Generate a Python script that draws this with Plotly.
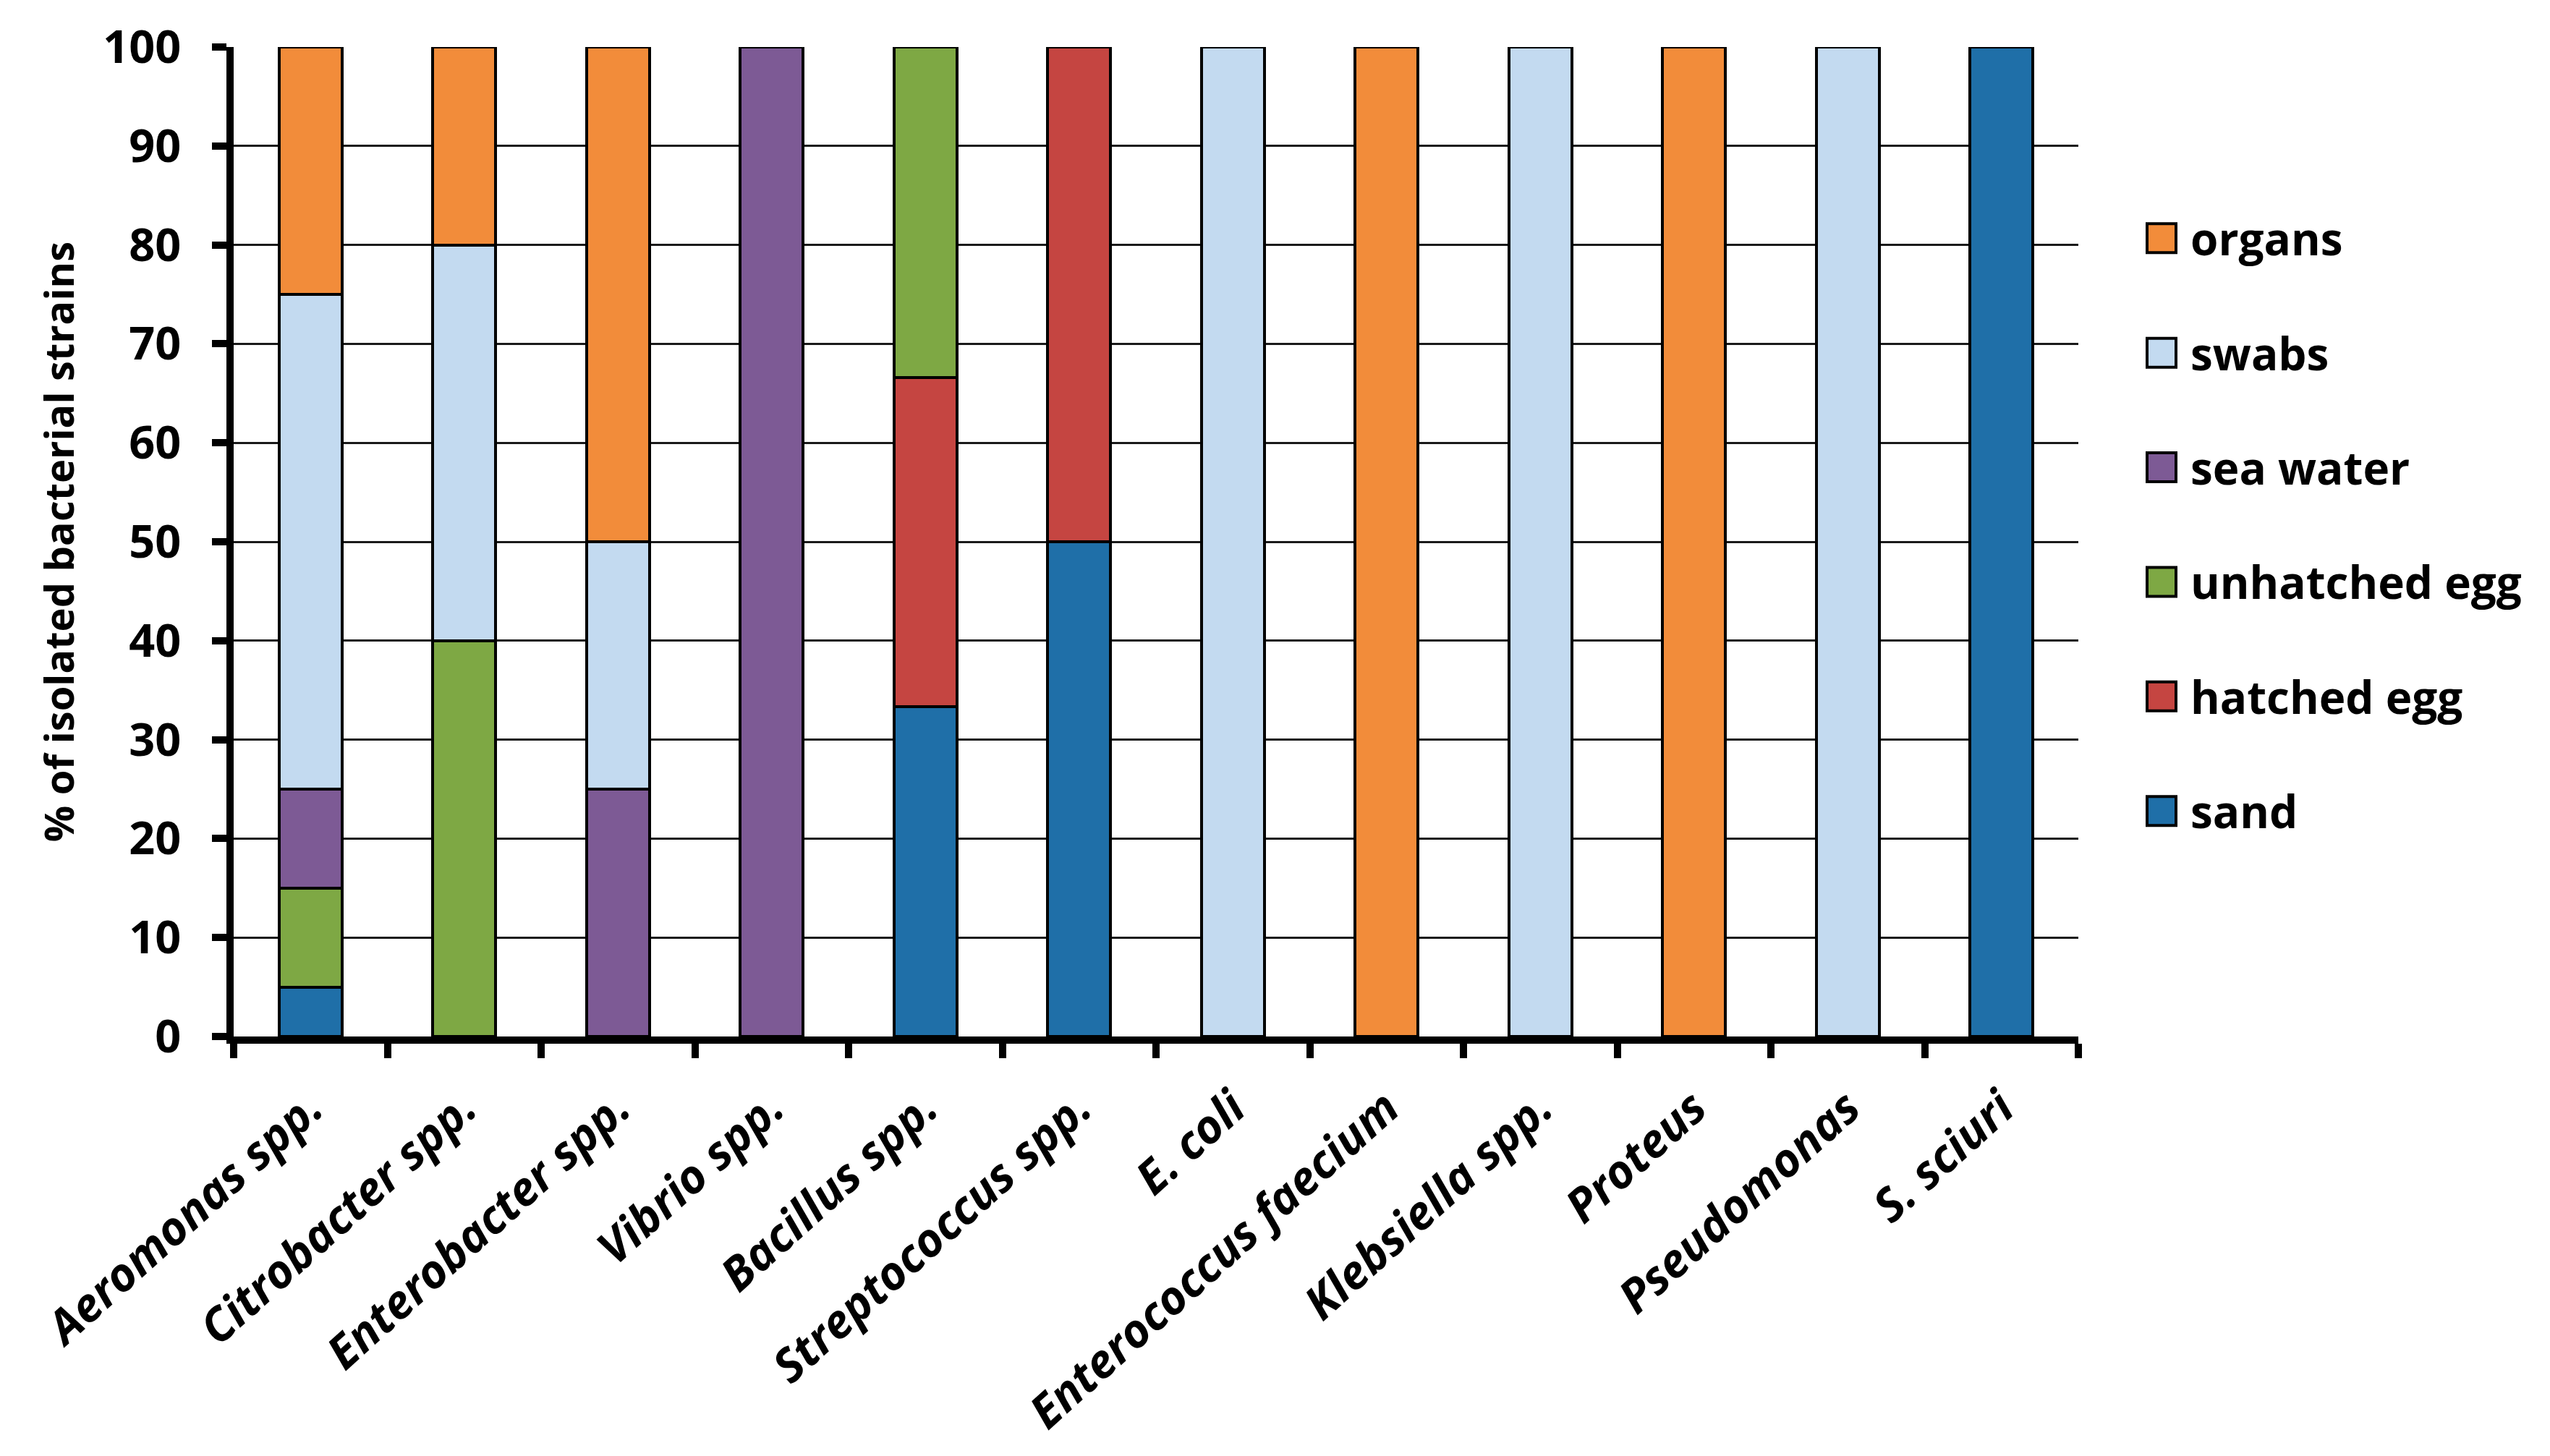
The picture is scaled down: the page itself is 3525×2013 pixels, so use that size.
import plotly.graph_objects as go

# ---------------- data ----------------
categories = ["Aeromonas spp.", "Citrobacter spp.", "Enterobacter spp.", "Vibrio spp.",
              "Bacillus spp.", "Streptococcus spp.", "E. coli", "Enterococcus faecium",
              "Klebsiella spp.", "Proteus", "Pseudomonas", "S. sciuri"]

sand          = [5,    None, None, None, 33.3, 50,   None, None, None, None, None, 100]
hatched_egg   = [None, None, None, None, 33.3, 50,   None, None, None, None, None, None]
unhatched_egg = [10,   40,   None, None, 33.4, None, None, None, None, None, None, None]
sea_water     = [10,   None, 25,   100,  None, None, None, None, None, None, None, None]
swabs         = [50,   40,   25,   None, None, None, 100,  None, 100,  None, 100,  None]
organs        = [25,   20,   50,   None, None, None, None, 100,  None, 100,  None, None]

series_names = ["sand", "hatched egg", "unhatched egg", "sea water", "swabs", "organs"]
series_values = [sand, hatched_egg, unhatched_egg, sea_water, swabs, organs]
series_colors = ["#1F6FA8", "#C54541", "#7EA844", "#7D5A95", "#C3DAF0", "#F28C3A"]

y_ticks = [0, 10, 20, 30, 40, 50, 60, 70, 80, 90, 100]

# ---------------- layout constants ----------------
OFF = 8                      # default page body margin
W, H = 3525 - 2 * OFF, 2013 - 2 * OFF
L, R, T, B = 323 - OFF, 2873 - OFF, 59 - OFF, 1441 - OFF   # plot area (figure pixels)
FONT = "Open Sans"

fig = go.Figure()
for name, vals, col in zip(series_names, series_values, series_colors):
    fig.add_trace(go.Bar(
        x=categories, y=vals, name=name,
        marker=dict(color=col, line=dict(color="black", width=4)),
        showlegend=False,
    ))

# manual legend (large squares, like the original)
def px_to_paper_x(px):
    return (px - L) / (R - L)

def px_to_paper_y(py):
    return (B - py) / (B - T)

leg_sq_x = 2988 - OFF
leg_txt_x = 3026 - OFF
leg_y0 = 326 - OFF
leg_step = 160
for i, (name, col) in enumerate(zip(series_names[::-1], series_colors[::-1])):
    yy = px_to_paper_y(leg_y0 + i * leg_step)
    fig.add_shape(type="rect", xref="paper", yref="paper",
                  xsizemode="pixel", ysizemode="pixel",
                  xanchor=px_to_paper_x(leg_sq_x), yanchor=yy,
                  x0=-20, x1=20, y0=-20, y1=20,
                  fillcolor=col, line=dict(color="black", width=4))
    fig.add_annotation(x=px_to_paper_x(leg_txt_x), y=yy, xref="paper", yref="paper",
                       text=name, showarrow=False, xanchor="left", yanchor="middle",
                       font=dict(family=FONT, size=62, color="black", weight="bold"))

fig.update_layout(
    width=W, height=H, autosize=False,
    barmode="stack", bargap=0.59,
    plot_bgcolor="white", paper_bgcolor="white",
    margin=dict(l=L, r=W - R, t=T, b=H - B),
    showlegend=False,
)

fig.update_xaxes(
    type="category", tickangle=-42,
    tickfont=dict(family=FONT, size=64, color="black", weight="bold", style="italic"),
    showline=True, linecolor="black", linewidth=10,
    ticks="outside", tickson="boundaries", ticklen=20, tickwidth=10, tickcolor="black",
    showgrid=False, ticklabelstandoff=26,
)
fig.update_yaxes(
    range=[0, 100], tickvals=y_ticks,
    tickfont=dict(family=FONT, size=63, color="black", weight="bold"),
    showline=True, linecolor="black", linewidth=10,
    ticks="outside", ticklen=20, tickwidth=10, tickcolor="black",
    showgrid=True, gridcolor="#1a1a1a", gridwidth=3,
    zeroline=False, ticklabelstandoff=30,
    title=dict(text="% of isolated bacterial strains",
               font=dict(family=FONT, size=56, color="black", weight="bold"),
               standoff=26),
)

fig.write_html("out.html")
